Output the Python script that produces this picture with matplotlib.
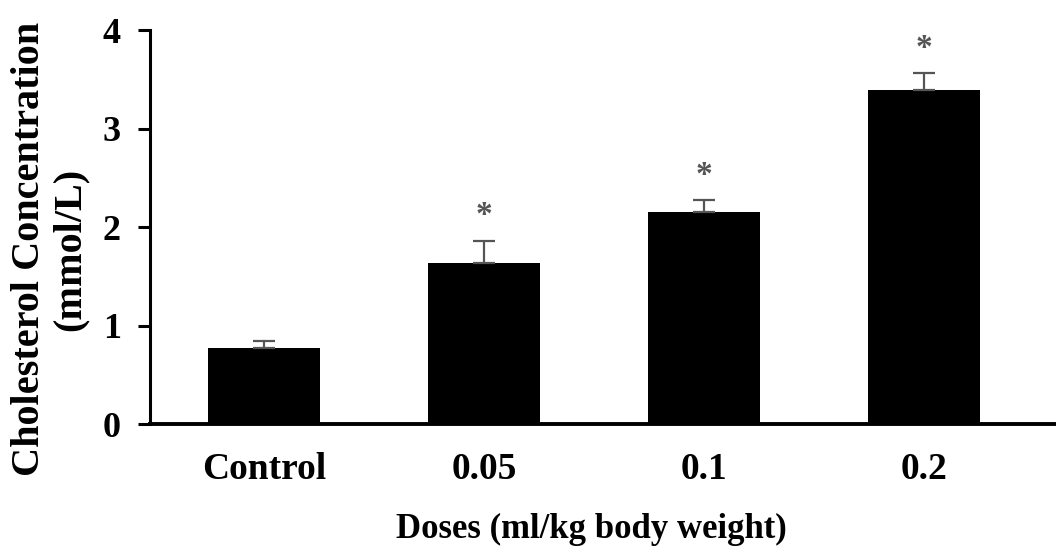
import matplotlib
matplotlib.use("Agg")
from matplotlib import pyplot as plt

# data
groups = ["Control", "0.05", "0.1", "0.2"]
means = [0.77, 1.63, 2.15, 3.39]
errors = [0.07, 0.23, 0.12, 0.17]
significant = [False, True, True, True]

plt.rcParams["font.family"] = ["Liberation Serif", "DejaVu Serif"]
plt.rcParams["font.weight"] = "bold"

fig = plt.figure(figsize=(10.56, 5.46), dpi=100)
ax = fig.add_axes([0.142, 0.2234, 0.858, 0.7216])

x = list(range(len(groups)))
ax.bar(x, means, width=0.51, color="black", zorder=2)
ax.errorbar(x, means, yerr=[[0] * len(errors), errors], fmt="none",
            ecolor="#555555", elinewidth=1.6, capsize=8, capthick=1.6, zorder=3)

for xi, m, e, sig in zip(x, means, errors, significant):
    if sig:
        ax.annotate("*", (xi, m + e), xytext=(0, 7), textcoords="offset points",
                    ha="center", va="bottom", fontsize=24, color="#555555",
                    fontweight="bold")

ax.set_xlim(-0.52, 3.6)
ax.set_ylim(0, 4)
ax.set_yticks([0, 1, 2, 3, 4])
ax.set_xticks(x)
ax.set_xticklabels(groups)

for s in ["top", "right"]:
    ax.spines[s].set_visible(False)
ax.spines["left"].set_linewidth(2.2)
ax.spines["bottom"].set_linewidth(2.8)

ax.tick_params(axis="y", direction="out", length=9, width=2.2, labelsize=26, pad=12)
ax.tick_params(axis="x", length=0, labelsize=27, pad=20)

ax.set_xlabel("Doses (ml/kg body weight)", fontsize=25, fontweight="bold")
ax.xaxis.label.set_va("baseline")
ax.xaxis.set_label_coords(0.487, -0.289)
ax.set_ylabel("Cholesterol Concentration\n(mmol/L)", fontsize=29, fontweight="bold",
              linespacing=1.12)
ax.yaxis.set_label_coords(-0.068, 0.444)

fig.savefig("out.png", dpi=100)
